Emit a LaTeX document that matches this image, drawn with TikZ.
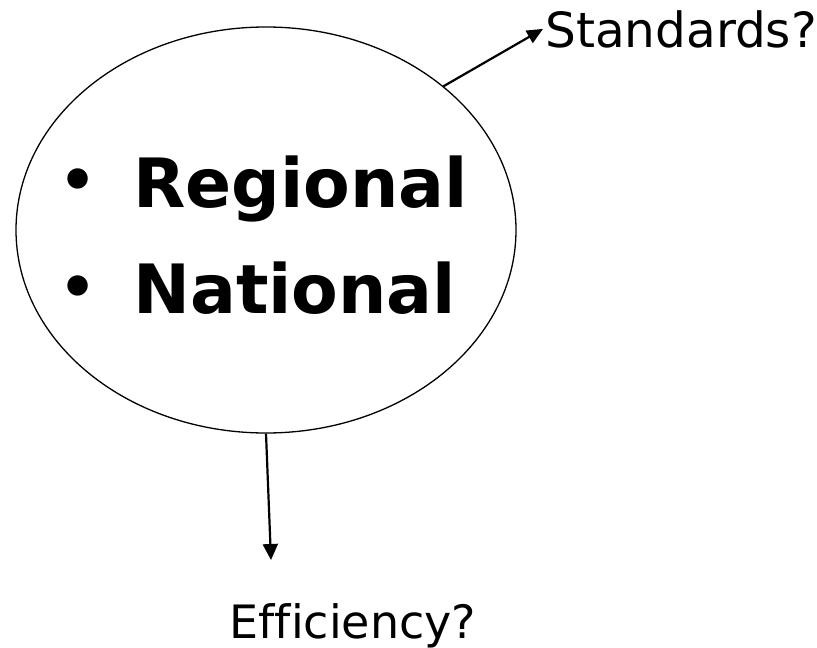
\documentclass[tikz,border=0pt]{standalone}
\usepackage{fontspec}
\setmainfont[Ligatures=NoCommon]{DejaVu Sans}
\usetikzlibrary{shapes.geometric,arrows.meta}

\begin{document}
\begin{tikzpicture}[x=1pt, y=-1pt]
        \useasboundingbox (0, 0) rectangle (817, 648);

        \node[draw, ellipse, line width=1.3pt, minimum width=500pt, minimum height=406pt, inner sep=0pt] (scope) at (266, 230) {};

        \node[inner sep=0pt] (b1) at (78.5, 185) {\fontsize{58}{66}\selectfont\bfseries •};
        \node[inner sep=0pt] (b2) at (78.5, 292) {\fontsize{58}{66}\selectfont\bfseries •};
        \node[inner sep=0pt, anchor=base west] (regional) at (133, 207) {\fontsize{68}{80}\selectfont\bfseries Regional};
        \node[inner sep=0pt, anchor=base west] (national) at (133, 313) {\fontsize{68}{80}\selectfont\bfseries National};

        \node[inner sep=2pt, anchor=base west] (stand) at (543, 47) {\fontsize{48.5}{56}\selectfont Standards?};
        \node[inner sep=0pt, anchor=base] (eff) at (353, 638) {\fontsize{46}{54}\selectfont Efficiency?};
        \coordinate (efftip) at (271, 560);

        \draw[-{Triangle[length=16pt, width=14pt]}, line width=2.2pt] (scope.39.3) -- (stand.west);
        \draw[-{Triangle[length=16pt, width=15pt]}, line width=2.2pt] (scope.south) -- (efftip);
    \end{tikzpicture}
\end{document}
